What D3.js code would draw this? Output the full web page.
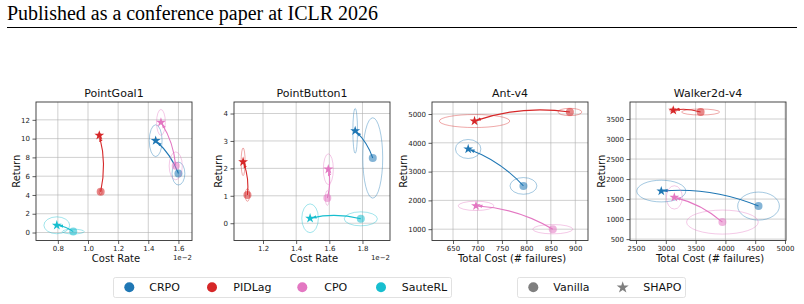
<!DOCTYPE html>
<html>
<head>
<meta charset="utf-8">
<script src="https://cdn.jsdelivr.net/npm/d3@7"></script>
<style>
  body { margin: 0; background: #fff; }
  text { font-family: "DejaVu Sans", sans-serif; }
</style>
</head>
<body>
<div id="chart"></div>
<script>
// ---- data ----
var panelTitles = ["PointGoal1", "PointButton1", "Ant-v4", "Walker2d-v4"];
var xLabels = ["Cost Rate", "Cost Rate", "Total Cost (# failures)", "Total Cost (# failures)"];
var methods = ["CRPO", "PIDLag", "CPO", "SauteRL"];

// x domains / y domains of each panel (PointGoal1 & PointButton1 in units of 1e-2)
var xDomains = [[0.655, 1.69], [1.025, 1.966], [607, 926], [2399, 5017]];
var yDomains = [[-0.85, 13.9], [-0.63, 4.42], [607, 5417], [465, 3925]];
var xTicks = [[0.8, 1.0, 1.2, 1.4, 1.6], [1.2, 1.4, 1.6, 1.8], [650, 700, 750, 800, 850, 900], [2500, 3000, 3500, 4000, 4500, 5000]];
var yTicks = [[0, 2, 4, 6, 8, 10, 12], [0, 1, 2, 3, 4], [1000, 2000, 3000, 4000, 5000], [500, 1000, 1500, 2000, 2500, 3000, 3500]];

// mean points, per panel, per method (CRPO, PIDLag, CPO, SauteRL)
var vanillaX = [[1.600, 1.084, 1.582, 0.902], [1.862, 1.106, 1.588, 1.790], [794, 889, 854, null], [4556, 3584, 3950, null]];
var vanillaY = [[6.28, 4.34, 7.10, 0.10], [2.38, 1.03, 0.92, 0.16], [2503, 5070, 1000, null], [1325, 3675, 925, null]];
var shapoX = [[1.449, 1.075, 1.484, 0.793], [1.756, 1.080, 1.594, 1.484], [681, 694, 697, null], [2924, 3125, 3143, null]];
var shapoY = [[9.78, 10.35, 11.73, 0.77], [3.37, 2.24, 1.97, 0.18], [3785, 4756, 1810, null], [1700, 3717, 1542, null]];

// spread ellipses (full width / full height in data units)
var vanillaW = [[0.085, 0.02, 0.087, 0.145], [0.12, 0.026, 0.024, 0.20], [55, 49, 82, null], [700, 638, 1203, null]];
var vanillaH = [[2.44, 0.6, 2.97, 0.5], [2.93, 0.46, 0.54, 0.51], [580, 255, 324, null], [700, 150, 600, null]];
var shapoW = [[0.085, 0.02, 0.058, 0.171], [0.028, 0.024, 0.06, 0.10], [52, 144, 73, null], [822, 117, 268, null]];
var shapoH = [[3.39, 0.6, 2.75, 1.8], [1.63, 1.01, 1.12, 1.05], [660, 452, 324, null], [542, 117, 583, null]];

var variants = ["Vanilla", "SHAPO"];

// ---- styles / layout ----
var colors = {CRPO: "#1f77b4", PIDLag: "#d62728", CPO: "#e377c2", SauteRL: "#17becf"};
var W = 804, H = 304;
var panelLeft = [36, 234, 432, 630];
var panelW = 156, panelTop = 102, panelH = 138.5;
var rad = 0.12;

var svg = d3.select("#chart").append("svg")
    .attr("width", W).attr("height", H);

var defs = svg.append("defs");
methods.forEach(function(m) {
    defs.append("marker")
        .attr("id", "head-" + m)
        .attr("viewBox", "0 0 10 10")
        .attr("refX", 9).attr("refY", 5)
        .attr("markerUnits", "userSpaceOnUse")
        .attr("markerWidth", 5).attr("markerHeight", 5)
        .attr("orient", "auto")
        .append("path")
        .attr("d", "M0,1.5 L10,5 L0,8.5 Z")
        .attr("fill", colors[m]);
});

// header
var header = svg.append("text")
    .attr("x", 7).attr("y", 20)
    .style("font-family", "'Liberation Serif', 'Times New Roman', serif")
    .style("font-size", "18px")
    .attr("fill", "#000")
    .text("Published as a conference paper at ICLR 2026");
var hw = header.node().getComputedTextLength();
header.style("font-size", (18 * 371 / hw) + "px");

svg.append("line")
    .attr("x1", 7).attr("x2", 797)
    .attr("y1", 27.5).attr("y2", 27.5)
    .attr("stroke", "#000").attr("stroke-width", 1);

var star = d3.symbol().type(d3.symbolStar).size(30);

panelTitles.forEach(function(title, p) {
    var x = d3.scaleLinear().domain(xDomains[p]).range([panelLeft[p], panelLeft[p] + panelW]);
    var y = d3.scaleLinear().domain(yDomains[p]).range([panelTop + panelH, panelTop]);
    var g = svg.append("g");
    var xfmt = p < 2 ? d3.format(".1f") : d3.format("d");
    var yfmt = d3.format("d");

    // grid
    g.append("g").selectAll("line").data(xTicks[p]).enter().append("line")
        .attr("x1", function(d) { return x(d); }).attr("x2", function(d) { return x(d); })
        .attr("y1", panelTop).attr("y2", panelTop + panelH)
        .attr("stroke", "#b0b0b0").attr("stroke-opacity", 0.75).attr("stroke-width", 0.8);
    g.append("g").selectAll("line").data(yTicks[p]).enter().append("line")
        .attr("y1", function(d) { return y(d); }).attr("y2", function(d) { return y(d); })
        .attr("x1", panelLeft[p]).attr("x2", panelLeft[p] + panelW)
        .attr("stroke", "#b0b0b0").attr("stroke-opacity", 0.75).attr("stroke-width", 0.8);

    // axes
    var ax = g.append("g")
        .attr("transform", "translate(0," + (panelTop + panelH) + ")")
        .call(d3.axisBottom(x).tickValues(xTicks[p]).tickFormat(xfmt).tickSize(3.5).tickPadding(2.5));
    var ay = g.append("g")
        .attr("transform", "translate(" + panelLeft[p] + ",0)")
        .call(d3.axisLeft(y).tickValues(yTicks[p]).tickFormat(yfmt).tickSize(3.5).tickPadding(2.5));
    [ax, ay].forEach(function(a) {
        a.select(".domain").remove();
        a.selectAll(".tick line").attr("stroke", "#333").attr("stroke-width", 0.8);
        a.selectAll(".tick text").attr("fill", "#222")
            .style("font-family", "'DejaVu Sans', sans-serif").style("font-size", "7px");
    });

    // ellipses, arrows, markers
    methods.forEach(function(m, i) {
        if (vanillaX[p][i] == null) return;
        var c = colors[m];
        var vx = x(vanillaX[p][i]), vy = y(vanillaY[p][i]);
        var sx = x(shapoX[p][i]), sy = y(shapoY[p][i]);

        g.append("ellipse")
            .attr("cx", vx).attr("cy", vy)
            .attr("rx", Math.abs(x(vanillaX[p][i] + vanillaW[p][i] / 2) - vx))
            .attr("ry", Math.abs(y(vanillaY[p][i] + vanillaH[p][i] / 2) - vy))
            .attr("fill", "none").attr("stroke", c).attr("stroke-opacity", 0.5).attr("stroke-width", 0.8);
        g.append("ellipse")
            .attr("cx", sx).attr("cy", sy)
            .attr("rx", Math.abs(x(shapoX[p][i] + shapoW[p][i] / 2) - sx))
            .attr("ry", Math.abs(y(shapoY[p][i] + shapoH[p][i] / 2) - sy))
            .attr("fill", "none").attr("stroke", c).attr("stroke-opacity", 0.5).attr("stroke-width", 0.8);

        // arc3-style curved arrow from vanilla to SHAPO
        var mx = (vx + sx) / 2, my = (vy + sy) / 2;
        var dx = sx - vx, dy = sy - vy;
        var cx = mx - rad * dy, cy = my + rad * dx;
        var ux = sx - cx, uy = sy - cy, ul = Math.hypot(ux, uy) || 1;
        var ex = sx - 2 * ux / ul, ey = sy - 2 * uy / ul;
        g.append("path")
            .attr("d", "M" + vx + "," + vy + " Q" + cx + "," + cy + " " + ex + "," + ey)
            .attr("fill", "none").attr("stroke", c).attr("stroke-width", 1.1)
            .attr("marker-end", "url(#head-" + m + ")");

        g.append("circle")
            .attr("cx", vx).attr("cy", vy).attr("r", 4)
            .attr("fill", c).attr("fill-opacity", 0.55);
        g.append("path")
            .attr("d", star())
            .attr("transform", "translate(" + sx + "," + sy + ")")
            .attr("fill", c);
    });

    // frame
    g.append("rect")
        .attr("x", panelLeft[p]).attr("y", panelTop)
        .attr("width", panelW).attr("height", panelH)
        .attr("fill", "none").attr("stroke", "#333").attr("stroke-width", 0.9);

    // title and labels
    g.append("text")
        .attr("x", panelLeft[p] + panelW / 2).attr("y", 97)
        .attr("text-anchor", "middle").style("font-size", "11px").attr("fill", "#111")
        .text(title);
    g.append("text")
        .attr("x", panelLeft[p] + panelW / 2 + 2).attr("y", 262)
        .attr("text-anchor", "middle").style("font-size", "10px").attr("fill", "#111")
        .text(xLabels[p]);
    var tw = ay.node().getBBox().width;
    g.append("text")
        .attr("transform", "translate(" + (panelLeft[p] - tw - 5) + "," + (panelTop + panelH / 2) + ") rotate(-90)")
        .attr("text-anchor", "middle").attr("dy", "0.35em")
        .style("font-size", "10px").attr("fill", "#111")
        .text("Return");
    if (p < 2) {
        g.append("text")
            .attr("x", panelLeft[p] + panelW).attr("y", 259.5)
            .attr("text-anchor", "end").style("font-size", "7px").attr("fill", "#222")
            .text("1e\u22122");
    }
});

// legends
var leg1 = svg.append("g");
leg1.append("rect").attr("x", 113.5).attr("y", 277.5).attr("width", 338).attr("height", 20)
    .attr("rx", 2).attr("fill", "#fff").attr("stroke", "#d9d9d9").attr("stroke-width", 0.8);
var leg1Dot = [129.3, 212, 302.3, 381];
var leg1Txt = [149.3, 233.3, 324.3, 401.7];
methods.forEach(function(m, i) {
    leg1.append("circle").attr("cx", leg1Dot[i]).attr("cy", 287.3).attr("r", 5).attr("fill", colors[m]);
    leg1.append("text").attr("x", leg1Txt[i]).attr("y", 287.3).attr("dy", "0.35em")
        .style("font-size", "11px").attr("fill", "#111").text(m);
});

var leg2 = svg.append("g");
leg2.append("rect").attr("x", 517.5).attr("y", 277.5).attr("width", 168).attr("height", 20)
    .attr("rx", 2).attr("fill", "#fff").attr("stroke", "#d9d9d9").attr("stroke-width", 0.8);
leg2.append("circle").attr("cx", 533.3).attr("cy", 287.3).attr("r", 5).attr("fill", "#7f7f7f");
leg2.append("path").attr("d", d3.symbol().type(d3.symbolStar).size(45)())
    .attr("transform", "translate(622.7,287.5)").attr("fill", "#7f7f7f");
leg2.append("text").attr("x", 553.3).attr("y", 287.3).attr("dy", "0.35em")
    .style("font-size", "11px").attr("fill", "#111").text(variants[0]);
leg2.append("text").attr("x", 643.3).attr("y", 287.3).attr("dy", "0.35em")
    .style("font-size", "11px").attr("fill", "#111").text(variants[1]);
</script>
</body>
</html>
